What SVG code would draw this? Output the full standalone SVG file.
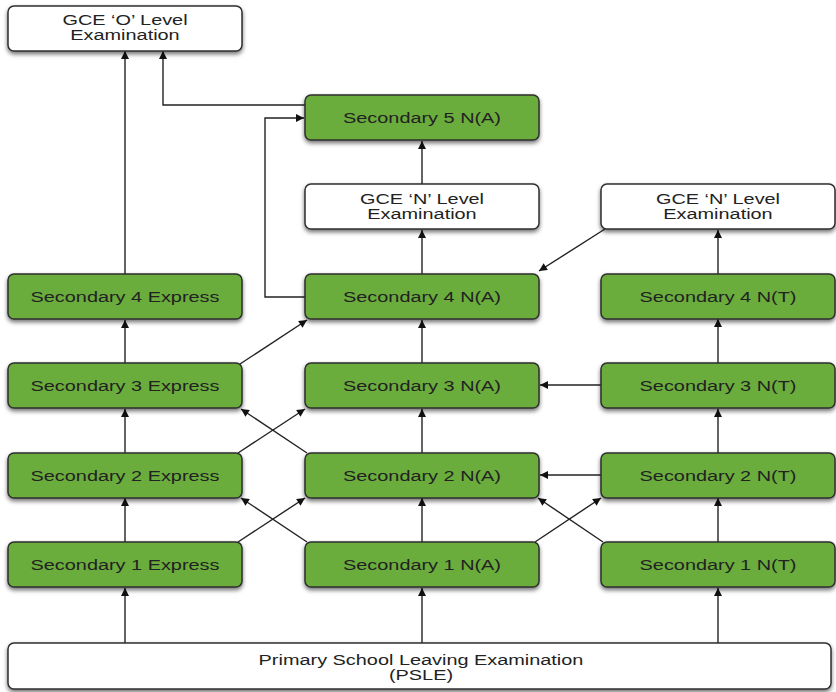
<svg xmlns="http://www.w3.org/2000/svg" width="836" height="692" viewBox="0 0 836 692">
<style>
.g{fill:#6aad3c;stroke:#2f2f2f;stroke-width:1.5}
.w{fill:#ffffff;stroke:#2f2f2f;stroke-width:1.5}
.t{font-family:"Liberation Sans",Arial,sans-serif;font-size:14px;fill:#222;text-anchor:middle}
.c{fill:none;stroke:#222;stroke-width:1.4}
</style>
<defs>
<filter id="sh" x="-10%" y="-20%" width="120%" height="160%">
<feDropShadow dx="0" dy="2.5" stdDeviation="2" flood-color="#000" flood-opacity="0.55"/>
</filter>
<marker id="ar" viewBox="0 0 10 10" refX="10" refY="5" markerWidth="9" markerHeight="8" markerUnits="userSpaceOnUse" orient="auto">
<path d="M0,0 L10,5 L0,10 z" fill="#111"/>
</marker>
</defs>
<g id="connectors" class="c" marker-end="url(#ar)">
<path d="M125,643 L125,588"/>
<path d="M422,643 L422,588"/>
<path d="M718,643 L718,588"/>
<path d="M125,542 L125,498"/>
<path d="M125,453 L125,409"/>
<path d="M125,363 L125,320"/>
<path d="M125,274 L125,51"/>
<path d="M422,542 L422,498"/>
<path d="M422,453 L422,409"/>
<path d="M422,363 L422,320"/>
<path d="M422,274 L422,230"/>
<path d="M422,184 L422,141"/>
<path d="M718,542 L718,498"/>
<path d="M718,453 L718,409"/>
<path d="M718,363 L718,319"/>
<path d="M718,274 L718,230"/>
<path d="M601,385 L540,385"/>
<path d="M601,475 L540,475"/>
<path d="M305,105 L163,105 L163,51"/>
<path d="M305,297 L265,297 L265,118 L304,118"/>
<path d="M605,229 L539,271"/>
<path d="M240,364 L307,320"/>
<path d="M238,453 L305,409"/>
<path d="M307,453 L241,409"/>
<path d="M238,542 L305,498"/>
<path d="M307,542 L241,498"/>
<path d="M535,542 L601,498"/>
<path d="M603,542 L538,498"/>
</g>
<g id="gce-o">
<rect class="w" x="8" y="6" width="234" height="45" rx="6" filter="url(#sh)"/>
<g transform="translate(125,0) scale(1.42,1)"><text class="t" x="0" y="25">GCE ‘O’ Level</text><text class="t" x="0" y="40">Examination</text></g>
</g>
<g id="sec5-na">
<rect class="g" x="305" y="95" width="234" height="45" rx="6" filter="url(#sh)"/>
<text class="t" transform="translate(422,123) scale(1.42,1)">Secondary 5 N(A)</text>
</g>
<g id="gce-n-1">
<rect class="w" x="305" y="184" width="234" height="45" rx="6" filter="url(#sh)"/>
<g transform="translate(422,0) scale(1.42,1)"><text class="t" x="0" y="204">GCE ‘N’ Level</text><text class="t" x="0" y="219">Examination</text></g>
</g>
<g id="gce-n-2">
<rect class="w" x="601" y="184" width="234" height="45" rx="6" filter="url(#sh)"/>
<g transform="translate(718,0) scale(1.42,1)"><text class="t" x="0" y="204">GCE ‘N’ Level</text><text class="t" x="0" y="219">Examination</text></g>
</g>
<g id="sec4-exp">
<rect class="g" x="8" y="274" width="234" height="45" rx="6" filter="url(#sh)"/>
<text class="t" transform="translate(125,302) scale(1.42,1)">Secondary 4 Express</text>
</g>
<g id="sec4-na">
<rect class="g" x="305" y="274" width="234" height="45" rx="6" filter="url(#sh)"/>
<text class="t" transform="translate(422,302) scale(1.42,1)">Secondary 4 N(A)</text>
</g>
<g id="sec4-nt">
<rect class="g" x="601" y="274" width="234" height="45" rx="6" filter="url(#sh)"/>
<text class="t" transform="translate(718,302) scale(1.42,1)">Secondary 4 N(T)</text>
</g>
<g id="sec3-exp">
<rect class="g" x="8" y="363" width="234" height="45" rx="6" filter="url(#sh)"/>
<text class="t" transform="translate(125,391) scale(1.42,1)">Secondary 3 Express</text>
</g>
<g id="sec3-na">
<rect class="g" x="305" y="363" width="234" height="45" rx="6" filter="url(#sh)"/>
<text class="t" transform="translate(422,391) scale(1.42,1)">Secondary 3 N(A)</text>
</g>
<g id="sec3-nt">
<rect class="g" x="601" y="363" width="234" height="45" rx="6" filter="url(#sh)"/>
<text class="t" transform="translate(718,391) scale(1.42,1)">Secondary 3 N(T)</text>
</g>
<g id="sec2-exp">
<rect class="g" x="8" y="453" width="234" height="45" rx="6" filter="url(#sh)"/>
<text class="t" transform="translate(125,481) scale(1.42,1)">Secondary 2 Express</text>
</g>
<g id="sec2-na">
<rect class="g" x="305" y="453" width="234" height="45" rx="6" filter="url(#sh)"/>
<text class="t" transform="translate(422,481) scale(1.42,1)">Secondary 2 N(A)</text>
</g>
<g id="sec2-nt">
<rect class="g" x="601" y="453" width="234" height="45" rx="6" filter="url(#sh)"/>
<text class="t" transform="translate(718,481) scale(1.42,1)">Secondary 2 N(T)</text>
</g>
<g id="sec1-exp">
<rect class="g" x="8" y="542" width="234" height="45" rx="6" filter="url(#sh)"/>
<text class="t" transform="translate(125,570) scale(1.42,1)">Secondary 1 Express</text>
</g>
<g id="sec1-na">
<rect class="g" x="305" y="542" width="234" height="45" rx="6" filter="url(#sh)"/>
<text class="t" transform="translate(422,570) scale(1.42,1)">Secondary 1 N(A)</text>
</g>
<g id="sec1-nt">
<rect class="g" x="601" y="542" width="234" height="45" rx="6" filter="url(#sh)"/>
<text class="t" transform="translate(718,570) scale(1.42,1)">Secondary 1 N(T)</text>
</g>
<g id="psle">
<rect class="w" x="8" y="643" width="823" height="46" rx="6" filter="url(#sh)"/>
<g transform="translate(421,0) scale(1.42,1)"><text class="t" x="0" y="665">Primary School Leaving Examination</text><text class="t" x="0" y="680">(PSLE)</text></g>
</g>
</svg>
